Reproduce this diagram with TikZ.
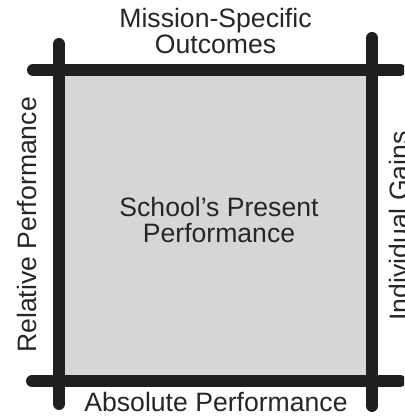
\documentclass[tikz,border=0pt]{standalone}
\usepackage{fontspec}
\setmainfont{Liberation Sans}
\definecolor{barcol}{HTML}{1F1F1F}
\definecolor{fieldcol}{HTML}{D6D6D6}
\definecolor{inkcol}{HTML}{262626}
\begin{document}
\begin{tikzpicture}[x=1pt,y=1pt,
  bar/.style={draw=barcol,line width=12pt,line cap=round},
  lbl/.style={text=inkcol,inner sep=0pt,font=\fontsize{26.6}{26}\selectfont,align=center},
  sidelbl/.style={lbl,rotate=90,anchor=base}]
\clip (0,0) rectangle (404,419);
% corners of the shaded field
\coordinate (fieldSW) at (59,38);
\coordinate (fieldNE) at (372,349);
\fill[fieldcol] (fieldSW) rectangle (fieldNE);
% the four crossing bars
\coordinate (topL) at (33,349);   \coordinate (topR) at (400,349);
\coordinate (botL) at (32,38);    \coordinate (botR) at (400,38);
\coordinate (leftT) at (59,375);  \coordinate (leftB) at (59,15);
\coordinate (rightT) at (372,381);\coordinate (rightB) at (372,13);
\draw[bar] (leftT) -- (leftB);
\draw[bar] (rightT) -- (rightB);
\draw[bar] (topL) -- (topR);
\draw[bar] (botL) -- (botR);
% labels (base of a two-line label is the baseline of its last line)
\node[lbl,anchor=base] (mission) at (215.5,365) {Mission-Specific\\Outcomes};
\node[lbl,anchor=base] (absolute) at (216,7) {Absolute Performance};
\node[sidelbl] (relative) at (36,194) {Relative Performance};
\node[sidelbl] (individual) at (408,193) {Individual Gains};
\node[lbl,anchor=base] (present) at (219,176) {School’s Present\\Performance};
\end{tikzpicture}
\end{document}
